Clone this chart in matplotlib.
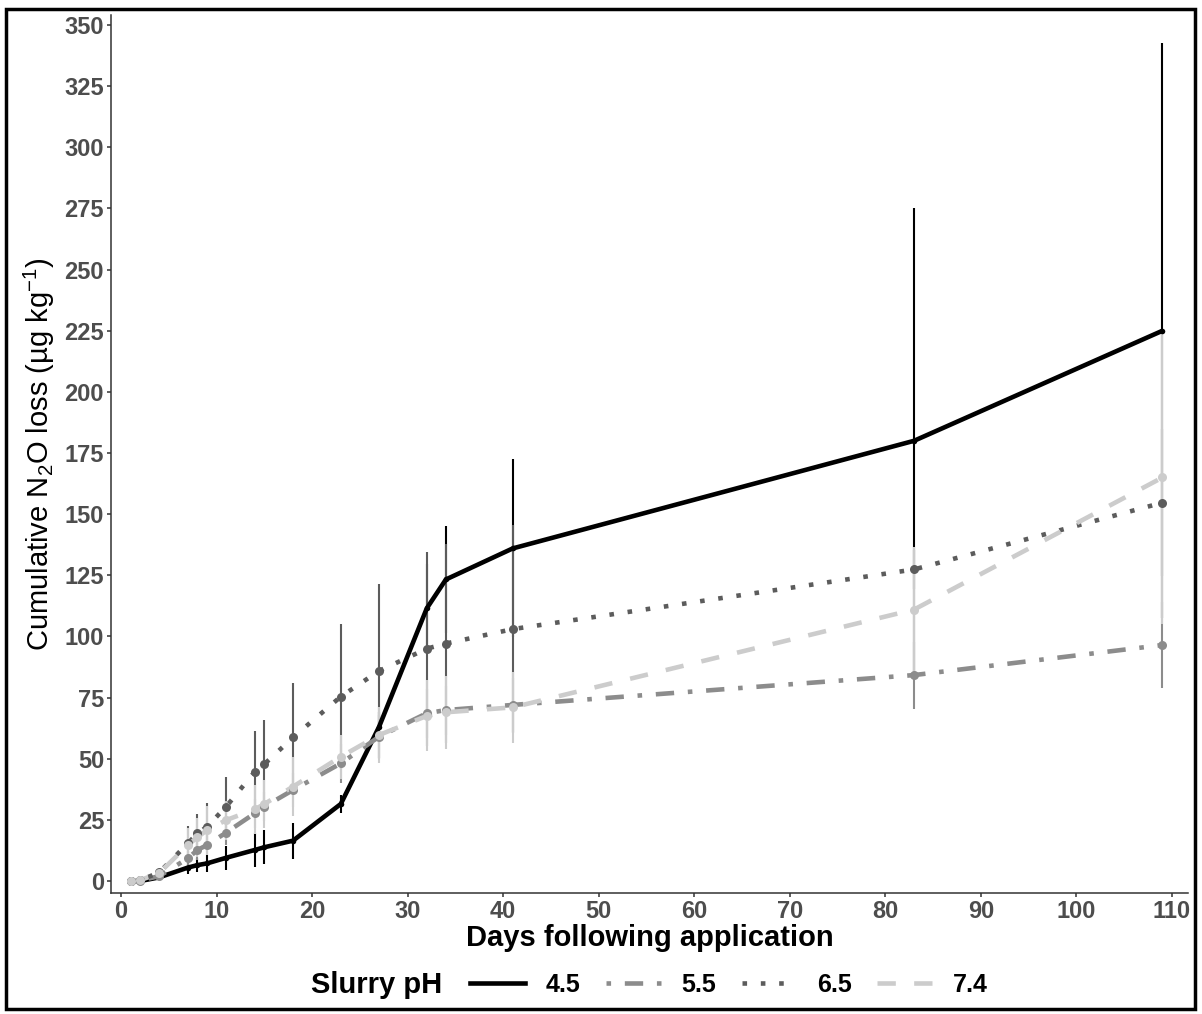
import matplotlib
matplotlib.use('Agg')
import matplotlib.pyplot as plt
from matplotlib.lines import Line2D
from matplotlib.patches import Rectangle

plt.rcParams['font.family'] = ['Liberation Sans', 'DejaVu Sans']
plt.rcParams['mathtext.fontset'] = 'custom'
plt.rcParams['mathtext.rm'] = 'Liberation Sans'
plt.rcParams['mathtext.it'] = 'Liberation Sans:italic'
plt.rcParams['mathtext.bf'] = 'Liberation Sans:bold'

# ---------------- data ----------------
days = [1, 2, 4, 7, 8, 9, 11, 14, 15, 18, 23, 27, 32, 34, 41, 83, 109]
ph_labels = ['4.5', '5.5', '6.5', '7.4']

n2o_45 = [0, 0, 1.5, 5.5, 6.5, 7.2, 9.5, 12.7, 13.8, 16.5, 31.5, 63, 111.5, 123.3, 136, 180, 225]
se_45 = [0.3, 0.3, 0.8, 2.5, 3, 3.4, 5, 7, 7, 7.3, 3.7, 6, 18, 22, 36.4, 95, 117.5]

n2o_55 = [0, 0.2, 2, 9.3, 12.7, 14.7, 19.8, 27.7, 30.4, 37.2, 48.1, 59, 68.6, 69.9, 72, 84.2, 96.5]
se_55 = [0.3, 0.5, 1, 3, 4, 4, 5, 6, 6, 7, 8, 9, 10, 10, 11, 13.7, 17.5]

n2o_65 = [0, 0.3, 3.5, 15.4, 19.5, 22.2, 30.4, 44.7, 47.8, 58.7, 75.4, 85.9, 95, 97.1, 103, 127.4, 154.7]
se_65 = [0.3, 0.5, 1.5, 7, 8, 9.6, 12, 16.8, 18, 22.3, 29.6, 35.4, 39.7, 40.7, 42.5, 8, 30]

n2o_74 = [0, 0.3, 3.3, 14.7, 17.9, 20.8, 24.9, 29.3, 31.5, 38.6, 50.8, 59.7, 67.5, 69, 71, 111, 165]
se_74 = [0.3, 0.5, 1.5, 7, 8, 10, 8, 10, 10, 12, 9, 11.5, 14.5, 15, 14.5, 25.6, 60]

x_ticks = list(range(0, 111, 10))
y_ticks = list(range(0, 351, 25))

# ---------------- styles ----------------
series = [n2o_45, n2o_55, n2o_65, n2o_74]
errors = [se_45, se_55, se_65, se_74]
colors = ['#000000', '#8c8c8c', '#5c5c5c', '#cccccc']
styles = ['-', (0, (1, 3, 4, 3)), (0, (1, 3)), (0, (4, 4))]
msizes = [4, 6.5, 6.5, 6.5]
lw = 3.3

W, H = 1202, 1014
fig = plt.figure(figsize=(W / 100, H / 100), dpi=100)
ax = fig.add_axes([111 / W, 1 - 893 / H, (1188 - 111) / W, (893 - 15) / H])

for i, (vals, err) in enumerate(zip(series, errors)):
    lo = [v - e for v, e in zip(vals, err)]
    hi = [v + e for v, e in zip(vals, err)]
    ax.vlines(days, lo, hi, color=colors[i], lw=1.5, zorder=2 + i * 0.01)
for i, vals in enumerate(series):
    ax.plot(days, vals, color=colors[i], linestyle=styles[i], lw=lw,
            dash_capstyle='butt', solid_capstyle='butt', zorder=3)
    ax.plot(days, vals, 'o', color=colors[i], ms=msizes[i], mew=0, zorder=4)

ax.set_xlim(-1.05, 111.67)
ax.set_ylim(-4.9, 354.1)
ax.set_xticks(x_ticks)
ax.set_yticks(y_ticks)
for sp in ['top', 'right']:
    ax.spines[sp].set_visible(False)
for sp in ['left', 'bottom']:
    ax.spines[sp].set_color('#333333')
    ax.spines[sp].set_linewidth(1.1)
ax.tick_params(axis='both', length=3, width=1.1, color='#333333',
               labelsize=17, labelcolor='#4d4d4d', pad=2)
for lab in ax.get_xticklabels() + ax.get_yticklabels():
    lab.set_fontweight('bold')

ax.set_xlabel('Days following application', fontsize=21, fontweight='bold',
              color='black', labelpad=1)
ax.set_ylabel('Cumulative N$_2$O loss (µg kg$^{-1}$)', fontsize=21,
              color='black', labelpad=5)

# legend
handles = [Line2D([0], [0], color=colors[i], linestyle=styles[i], lw=lw,
                  dash_capstyle='butt') for i in range(4)]
ly = 1 - 985 / H
fig.text(311 / W, ly, 'Slurry pH', fontsize=21, fontweight='bold',
         ha='left', va='center')
fig.legend(handles, ph_labels, loc='center left', bbox_to_anchor=(470 / W, ly),
           ncol=4, frameon=False, prop={'weight': 'bold', 'size': 18},
           handlelength=2.2, handletextpad=0.84, columnspacing=1.0,
           borderpad=0, borderaxespad=0)

# outer border
fig.patches.append(Rectangle((6 / W, 1 - 1009 / H), (1195 - 6) / W, (1009 - 9) / H,
                             transform=fig.transFigure, fill=False,
                             edgecolor='black', lw=2.5))

fig.savefig('out.png', dpi=100)
